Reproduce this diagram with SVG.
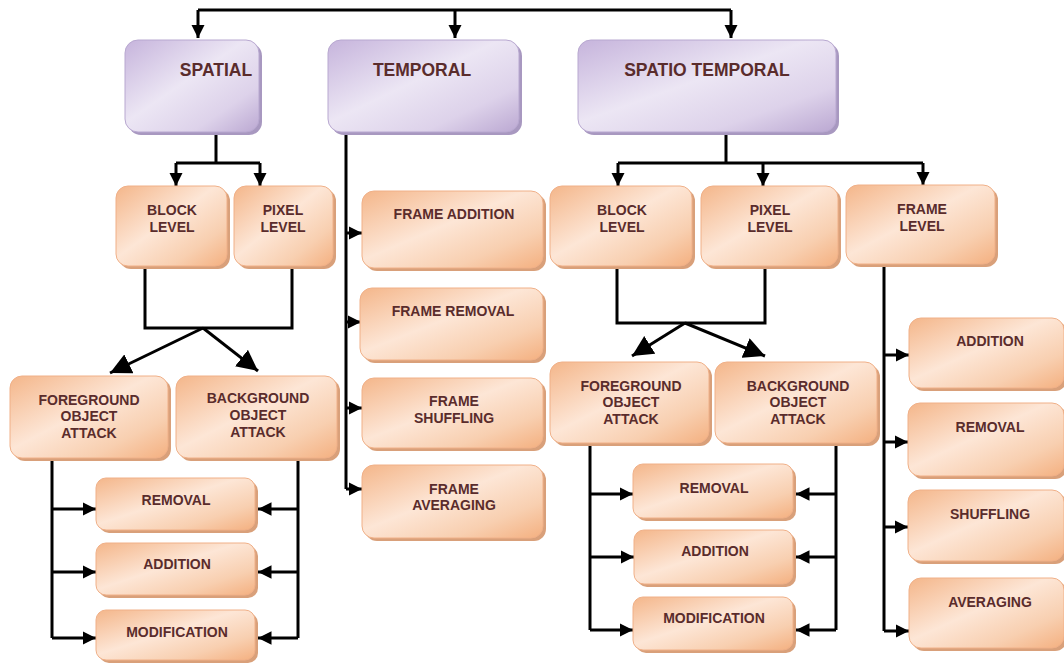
<svg xmlns="http://www.w3.org/2000/svg" width="1064" height="664" viewBox="0 0 1064 664">
<style>
.o{fill:url(#og);stroke:#f0b088;stroke-width:1}
.os{fill:#d9a07a}
.p{fill:url(#pg);stroke:#b8a8d0;stroke-width:1}
.ps{fill:#a898c0}
text{font-family:"Liberation Sans",Arial,sans-serif;font-weight:bold;font-size:14px;fill:#5a2c2c;text-anchor:middle}
.big{font-size:17.5px}
.c{fill:none;stroke:#000;stroke-width:3}
</style>
<defs>
<linearGradient id="og" x1="0" y1="0" x2="1" y2="1">
<stop offset="0" stop-color="#f4b68a"/>
<stop offset="0.45" stop-color="#fde6d6"/>
<stop offset="0.75" stop-color="#f8cfb0"/>
<stop offset="1" stop-color="#f4b080"/>
</linearGradient>
<linearGradient id="pg" x1="0" y1="0" x2="1" y2="1">
<stop offset="0" stop-color="#c6b4dc"/>
<stop offset="0.45" stop-color="#ece6f4"/>
<stop offset="0.75" stop-color="#ddd2ea"/>
<stop offset="1" stop-color="#bba8d2"/>
</linearGradient>
<marker id="a" viewBox="0 0 10 10" refX="10" refY="5" markerWidth="4.5" markerHeight="4.5" orient="auto" markerUnits="strokeWidth">
<path d="M0,0 L10,5 L0,10 z" fill="#000"/>
</marker>
<marker id="b" viewBox="0 0 10 10" refX="10" refY="5" markerWidth="7" markerHeight="7" orient="auto" markerUnits="strokeWidth">
<path d="M0,0 L10,5 L0,10 z" fill="#000"/>
</marker>
</defs>

<g id="connectors">
<path class="c" d="M198,10 H731"/>
<path class="c" d="M198,10 V38" marker-end="url(#a)"/>
<path class="c" d="M455,10 V38" marker-end="url(#a)"/>
<path class="c" d="M731,10 V38" marker-end="url(#a)"/>
<path class="c" d="M216,134 V163 M176,163 H260"/>
<path class="c" d="M176,163 V186" marker-end="url(#a)"/>
<path class="c" d="M260,163 V186" marker-end="url(#a)"/>
<path class="c" d="M145,268 V328 H292 V268"/>
<path class="c" d="M203,328 L110,373" marker-end="url(#b)"/>
<path class="c" d="M203,328 L258,371" marker-end="url(#b)"/>
<path class="c" d="M52,460 V638"/>
<path class="c" d="M52,509 H96" marker-end="url(#a)"/>
<path class="c" d="M52,572 H96" marker-end="url(#a)"/>
<path class="c" d="M52,638 H96" marker-end="url(#a)"/>
<path class="c" d="M298,460 V638"/>
<path class="c" d="M298,509 H258" marker-end="url(#a)"/>
<path class="c" d="M298,572 H258" marker-end="url(#a)"/>
<path class="c" d="M298,638 H258" marker-end="url(#a)"/>
<path class="c" d="M346,134 V489"/>
<path class="c" d="M346,233 H362" marker-end="url(#a)"/>
<path class="c" d="M346,322 H361" marker-end="url(#a)"/>
<path class="c" d="M346,408 H362" marker-end="url(#a)"/>
<path class="c" d="M346,489 H362" marker-end="url(#a)"/>
<path class="c" d="M726,134 V163 M618,163 H923"/>
<path class="c" d="M618,163 V186" marker-end="url(#a)"/>
<path class="c" d="M763,163 V186" marker-end="url(#a)"/>
<path class="c" d="M923,163 V185" marker-end="url(#a)"/>
<path class="c" d="M617,265 V323 H765 V265"/>
<path class="c" d="M685,323 L632,356" marker-end="url(#b)"/>
<path class="c" d="M685,323 L765,356" marker-end="url(#b)"/>
<path class="c" d="M590,445 V630"/>
<path class="c" d="M590,494 H633" marker-end="url(#a)"/>
<path class="c" d="M590,557 H634" marker-end="url(#a)"/>
<path class="c" d="M590,630 H633" marker-end="url(#a)"/>
<path class="c" d="M836,445 V630"/>
<path class="c" d="M836,494 H796" marker-end="url(#a)"/>
<path class="c" d="M836,557 H796" marker-end="url(#a)"/>
<path class="c" d="M836,630 H796" marker-end="url(#a)"/>
<path class="c" d="M884,266 V631"/>
<path class="c" d="M884,355 H909" marker-end="url(#a)"/>
<path class="c" d="M884,442 H908" marker-end="url(#a)"/>
<path class="c" d="M884,527 H908" marker-end="url(#a)"/>
<path class="c" d="M884,631 H909" marker-end="url(#a)"/>
</g>

<g id="spatial"><rect class="ps" x="128" y="43" width="134" height="92" rx="13"/><rect class="p" x="125" y="40" width="134" height="92" rx="13"/><text class="big" x="216" y="76">SPATIAL</text></g>
<g id="temporal"><rect class="ps" x="331" y="43" width="191" height="92" rx="13"/><rect class="p" x="328" y="40" width="191" height="92" rx="13"/><text class="big" x="422" y="76">TEMPORAL</text></g>
<g id="spatiotemporal"><rect class="ps" x="581" y="43" width="258" height="92" rx="13"/><rect class="p" x="578" y="40" width="258" height="92" rx="13"/><text class="big" x="707" y="76">SPATIO TEMPORAL</text></g>

<g id="s-block"><rect class="os" x="119" y="189" width="111" height="80" rx="12"/><rect class="o" x="116" y="186" width="111" height="80" rx="12"/><text x="172" y="215">BLOCK</text><text x="172" y="232">LEVEL</text></g>
<g id="s-pixel"><rect class="os" x="237" y="189" width="99" height="80" rx="12"/><rect class="o" x="234" y="186" width="99" height="80" rx="12"/><text x="283" y="215">PIXEL</text><text x="283" y="232">LEVEL</text></g>
<g id="s-fg"><rect class="os" x="13" y="379" width="158" height="82" rx="12"/><rect class="o" x="10" y="376" width="158" height="82" rx="12"/><text x="89" y="405">FOREGROUND</text><text x="89" y="421">OBJECT</text><text x="89" y="438">ATTACK</text></g>
<g id="s-bg"><rect class="os" x="179" y="379" width="161" height="82" rx="12"/><rect class="o" x="176" y="376" width="161" height="82" rx="12"/><text x="258" y="403">BACKGROUND</text><text x="258" y="420">OBJECT</text><text x="258" y="437">ATTACK</text></g>
<g id="s-removal"><rect class="os" x="99" y="481" width="159" height="52" rx="10"/><rect class="o" x="96" y="478" width="159" height="52" rx="10"/><text x="176" y="505">REMOVAL</text></g>
<g id="s-addition"><rect class="os" x="99" y="546" width="159" height="52" rx="10"/><rect class="o" x="96" y="543" width="159" height="52" rx="10"/><text x="177" y="569">ADDITION</text></g>
<g id="s-mod"><rect class="os" x="99" y="613" width="159" height="50" rx="10"/><rect class="o" x="96" y="610" width="159" height="50" rx="10"/><text x="177" y="637">MODIFICATION</text></g>

<g id="t-add"><rect class="os" x="365" y="194" width="181" height="77" rx="12"/><rect class="o" x="362" y="191" width="181" height="77" rx="12"/><text x="454" y="219">FRAME ADDITION</text></g>
<g id="t-rem"><rect class="os" x="363" y="291" width="183" height="72" rx="12"/><rect class="o" x="360" y="288" width="183" height="72" rx="12"/><text x="453" y="316">FRAME REMOVAL</text></g>
<g id="t-shuf"><rect class="os" x="365" y="381" width="181" height="70" rx="12"/><rect class="o" x="362" y="378" width="181" height="70" rx="12"/><text x="454" y="406">FRAME</text><text x="454" y="423">SHUFFLING</text></g>
<g id="t-avg"><rect class="os" x="365" y="468" width="181" height="73" rx="12"/><rect class="o" x="362" y="465" width="181" height="73" rx="12"/><text x="454" y="494">FRAME</text><text x="454" y="510">AVERAGING</text></g>

<g id="st-block"><rect class="os" x="553" y="189" width="142" height="80" rx="12"/><rect class="o" x="550" y="186" width="142" height="80" rx="12"/><text x="622" y="215">BLOCK</text><text x="622" y="232">LEVEL</text></g>
<g id="st-pixel"><rect class="os" x="704" y="189" width="137" height="80" rx="12"/><rect class="o" x="701" y="186" width="137" height="80" rx="12"/><text x="770" y="215">PIXEL</text><text x="770" y="232">LEVEL</text></g>
<g id="st-frame"><rect class="os" x="849" y="188" width="149" height="79" rx="12"/><rect class="o" x="846" y="185" width="149" height="79" rx="12"/><text x="922" y="214">FRAME</text><text x="922" y="231">LEVEL</text></g>
<g id="st-fg"><rect class="os" x="553" y="365" width="159" height="81" rx="12"/><rect class="o" x="550" y="362" width="159" height="81" rx="12"/><text x="631" y="391">FOREGROUND</text><text x="631" y="407">OBJECT</text><text x="631" y="424">ATTACK</text></g>
<g id="st-bg"><rect class="os" x="718" y="365" width="162" height="81" rx="12"/><rect class="o" x="715" y="362" width="162" height="81" rx="12"/><text x="798" y="391">BACKGROUND</text><text x="798" y="407">OBJECT</text><text x="798" y="424">ATTACK</text></g>
<g id="st-removal"><rect class="os" x="636" y="467" width="160" height="54" rx="10"/><rect class="o" x="633" y="464" width="160" height="54" rx="10"/><text x="714" y="493">REMOVAL</text></g>
<g id="st-addition"><rect class="os" x="637" y="533" width="159" height="54" rx="10"/><rect class="o" x="634" y="530" width="159" height="54" rx="10"/><text x="715" y="556">ADDITION</text></g>
<g id="st-mod"><rect class="os" x="636" y="600" width="160" height="53" rx="10"/><rect class="o" x="633" y="597" width="160" height="53" rx="10"/><text x="714" y="623">MODIFICATION</text></g>

<g id="f-add"><rect class="os" x="912" y="321" width="155" height="70" rx="12"/><rect class="o" x="909" y="318" width="155" height="70" rx="12"/><text x="990" y="346">ADDITION</text></g>
<g id="f-rem"><rect class="os" x="911" y="406" width="156" height="73" rx="12"/><rect class="o" x="908" y="403" width="156" height="73" rx="12"/><text x="990" y="432">REMOVAL</text></g>
<g id="f-shuf"><rect class="os" x="911" y="493" width="156" height="71" rx="12"/><rect class="o" x="908" y="490" width="156" height="71" rx="12"/><text x="990" y="519">SHUFFLING</text></g>
<g id="f-avg"><rect class="os" x="912" y="581" width="155" height="70" rx="12"/><rect class="o" x="909" y="578" width="155" height="70" rx="12"/><text x="990" y="607">AVERAGING</text></g>
</svg>
